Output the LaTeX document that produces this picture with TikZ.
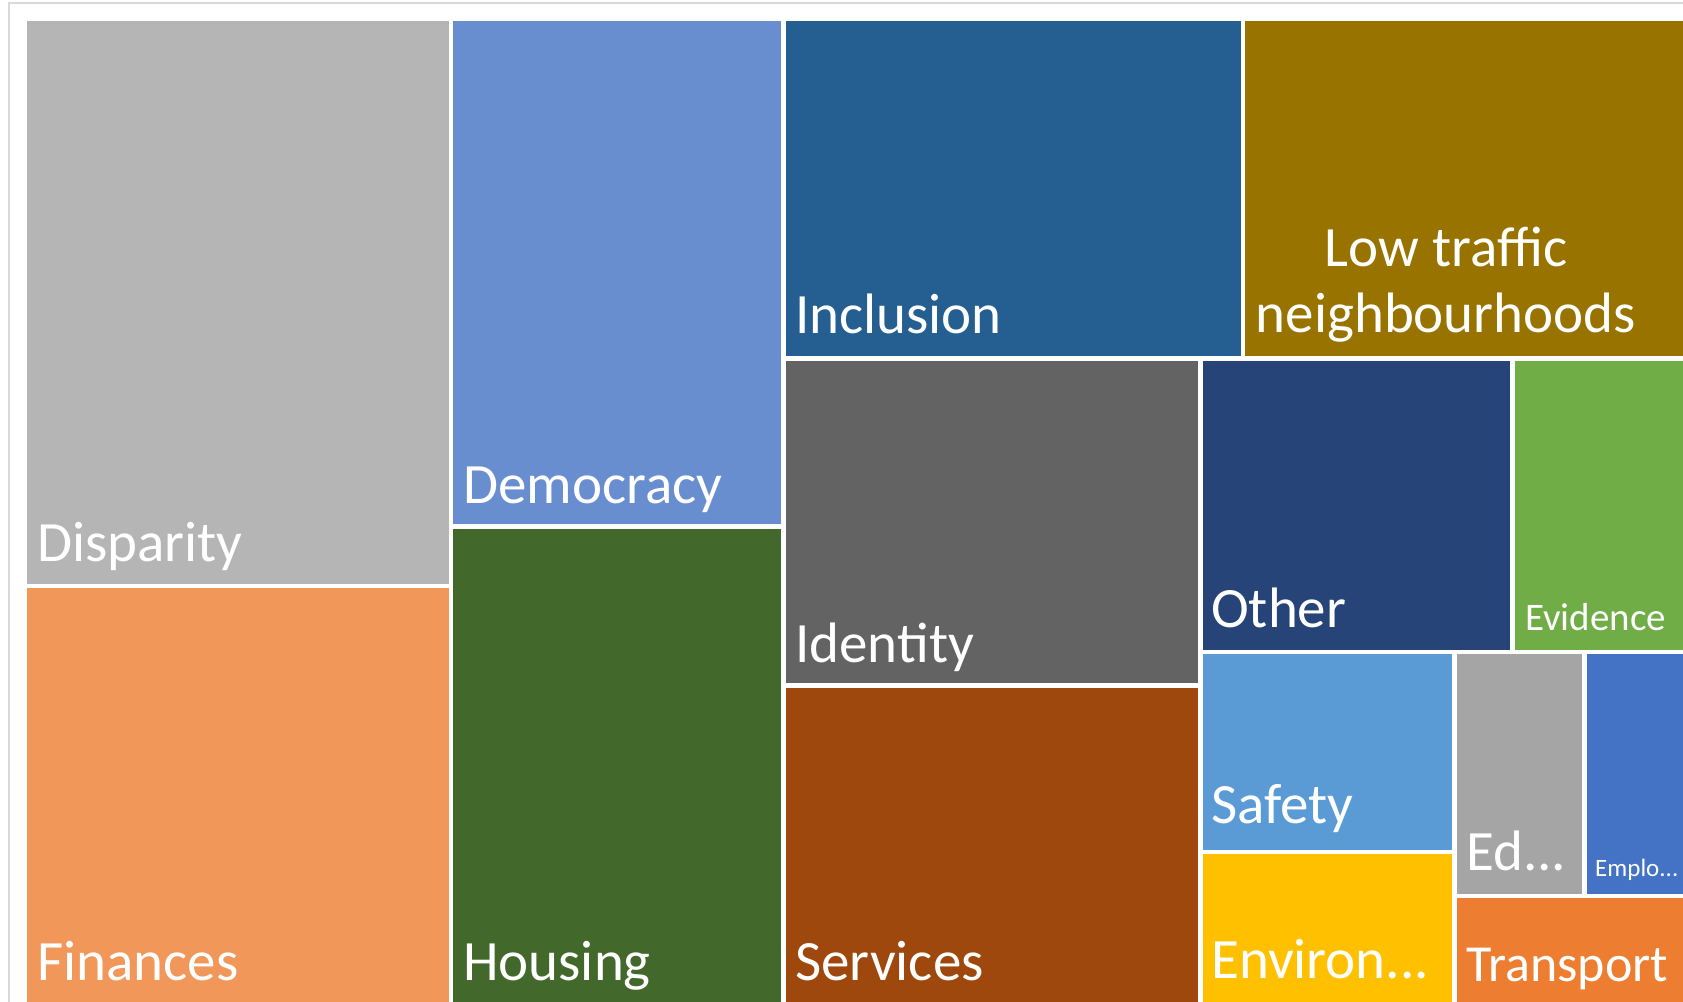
\documentclass[tikz,border=0pt]{standalone}
\usepackage{fontspec}
\setmainfont{Carlito}
\definecolor{cDisp}{HTML}{B5B5B5}
\definecolor{cFin}{HTML}{F1975A}
\definecolor{cDem}{HTML}{698ED0}
\definecolor{cHou}{HTML}{43682B}
\definecolor{cInc}{HTML}{255E91}
\definecolor{cLtn}{HTML}{997300}
\definecolor{cIde}{HTML}{636363}
\definecolor{cSer}{HTML}{9E480E}
\definecolor{cOth}{HTML}{264478}
\definecolor{cEvi}{HTML}{70AD47}
\definecolor{cSaf}{HTML}{5B9BD5}
\definecolor{cEnv}{HTML}{FFC000}
\definecolor{cEdu}{HTML}{A5A5A5}
\definecolor{cEmp}{HTML}{4472C4}
\definecolor{cTra}{HTML}{ED7D31}
\definecolor{cFrame}{HTML}{D9D9D9}
\tikzset{
  lbl/.style={text=white, inner sep=0pt, anchor=base west, font=\fontsize{57}{62}\selectfont},
  lblsmall/.style={lbl, font=\fontsize{39}{43}\selectfont},
  lbltiny/.style={lbl, font=\fontsize{25}{28}\selectfont}
}
\begin{document}
\begin{tikzpicture}[x=1pt,y=-1pt]
\useasboundingbox (0,0) rectangle (1683,1001);
\clip (0,0) rectangle (1683,1001);
\fill[white] (0,0) rectangle (1683,1001);
\draw[cFrame, line width=1.5pt] (9,3) rectangle (1700,1020);
% tiles
\fill[cDisp] (27,21) rectangle (449,584);
\fill[cFin]  (27,588) rectangle (449,1010);
\fill[cDem]  (453,21) rectangle (781,524);
\fill[cHou]  (453,529) rectangle (781,1010);
\fill[cInc]  (786,21) rectangle (1241,356);
\fill[cLtn]  (1245,21) rectangle (1700,356);
\fill[cIde]  (786,361) rectangle (1198,683);
\fill[cSer]  (786,688) rectangle (1198,1010);
\fill[cOth]  (1203,361) rectangle (1510,650);
\fill[cEvi]  (1515,361) rectangle (1700,650);
\fill[cSaf]  (1203,654) rectangle (1452,850);
\fill[cEnv]  (1203,854) rectangle (1452,1010);
\fill[cEdu]  (1457,654) rectangle (1582,894);
\fill[cEmp]  (1587,654) rectangle (1700,894);
\fill[cTra]  (1457,898) rectangle (1700,1010);
% labels
\node (disparity) [lbl] at (37,561) {Disparity};
\node (finances)  [lbl] at (37,980) {Finances};
\node (democracy) [lbl] at (463,503) {Democracy};
\node (housing)   [lbl] at (463,980) {Housing};
\node (inclusion) [lbl] at (795,333) {Inclusion};
\node (ltnA) [lbl, anchor=base] at (1446,266) {Low traffic};
\node (ltnB) [lbl, anchor=base] at (1446,332) {neighbourhoods};
\node (identity)  [lbl] at (795,662) {Identity};
\node (services)  [lbl] at (795,980) {Services};
\node (other)     [lbl] at (1211,627) {Other};
\node (evidence)  [lblsmall] at (1525,630) {Evidence};
\node (safety)    [lbl] at (1211,823) {Safety};
\node (environ)   [lbl] at (1211,978) {Environ...};
\node (ed)        [lbl] at (1466,870) {Ed...};
\node (emplo)     [lbltiny] at (1595,876) {Emplo...};
\node (transport) [lbl, font=\fontsize{52}{56}\selectfont] at (1466,981) {Transport};
\end{tikzpicture}
\end{document}
